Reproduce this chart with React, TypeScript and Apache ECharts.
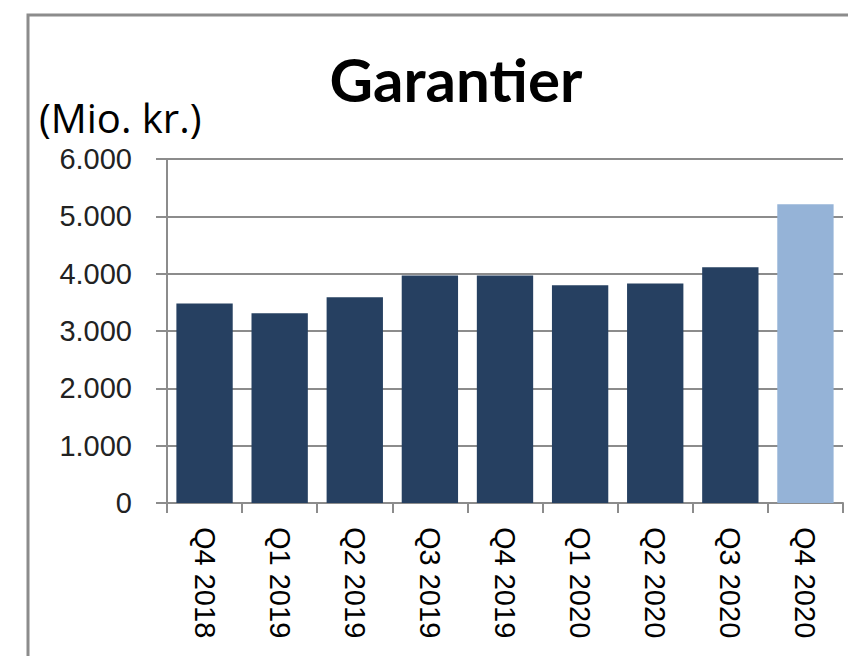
import React, { useEffect, useRef } from "react";
import * as echarts from "echarts";

const categories = ["Q4 2018", "Q1 2019", "Q2 2019", "Q3 2019", "Q4 2019", "Q1 2020", "Q2 2020", "Q3 2020", "Q4 2020"];
const values = [3480, 3310, 3590, 3970, 3970, 3800, 3830, 4110, 5210];
const highlightIndex = 8;
const titleText = "Garantier";
const unitText = "(Mio. kr.)";

export default function App() {
  const ref = useRef<HTMLDivElement>(null);
  useEffect(() => {
    document.body.style.margin = "0";
    const chart = echarts.init(ref.current!, null, { renderer: "svg" });
    chart.setOption({
      animation: false,
      backgroundColor: "#ffffff",
      graphic: [
        {
          type: "rect",
          shape: { x: 28, y: 15, width: 900, height: 700 },
          style: { fill: "none", stroke: "#8c8c8c", lineWidth: 3 },
          silent: true,
        },
        {
          type: "text",
          x: 456,
          y: 79,
          style: {
            text: titleText,
            font: "bold 60px Lato",
            fill: "#000000",
            textAlign: "center",
            textVerticalAlign: "middle",
          },
        },
        {
          type: "text",
          x: 39,
          y: 117,
          style: {
            text: unitText,
            font: "40px 'Open Sans'",
            lineHeight: 38,
            fill: "#000000",
            textAlign: "left",
            textVerticalAlign: "middle",
          },
        },
      ],
      grid: { left: 167, right: 5, top: 159, bottom: 153, containLabel: false },
      xAxis: {
        type: "category",
        data: categories,
        axisLine: { show: true, lineStyle: { color: "#8c8c8c", width: 2 } },
        axisTick: { show: true, length: 10, lineStyle: { color: "#8c8c8c", width: 2 } },
        axisLabel: {
          rotate: -90,
          margin: 24,
          fontFamily: "Liberation Sans",
          fontSize: 29,
          color: "#000000",
          interval: 0,
        },
      },
      yAxis: {
        type: "value",
        min: 0,
        max: 6000,
        interval: 1000,
        axisLine: { show: true, lineStyle: { color: "#8c8c8c", width: 2 } },
        axisTick: { show: true, length: 11, lineStyle: { color: "#8c8c8c", width: 2 } },
        splitLine: { show: true, lineStyle: { color: "#8c8c8c", width: 2 } },
        axisLabel: {
          margin: 35,
          fontFamily: "Liberation Sans",
          fontSize: 29,
          lineHeight: 22,
          color: "#222222",
          formatter: (v: number) => (v >= 1000 ? `${Math.floor(v / 1000)}.${String(v % 1000).padStart(3, "0")}` : String(v)),
        },
      },
      series: [
        {
          type: "bar",
          barCategoryGap: "25%",
          data: values.map((v, i) => ({
            value: v,
            itemStyle: { color: i === highlightIndex ? "#95b3d7" : "#264061" },
          })),
          z: 3,
        },
      ],
    });
    return () => chart.dispose();
  }, []);
  return <div ref={ref} style={{ width: 848, height: 656 }} />;
}
